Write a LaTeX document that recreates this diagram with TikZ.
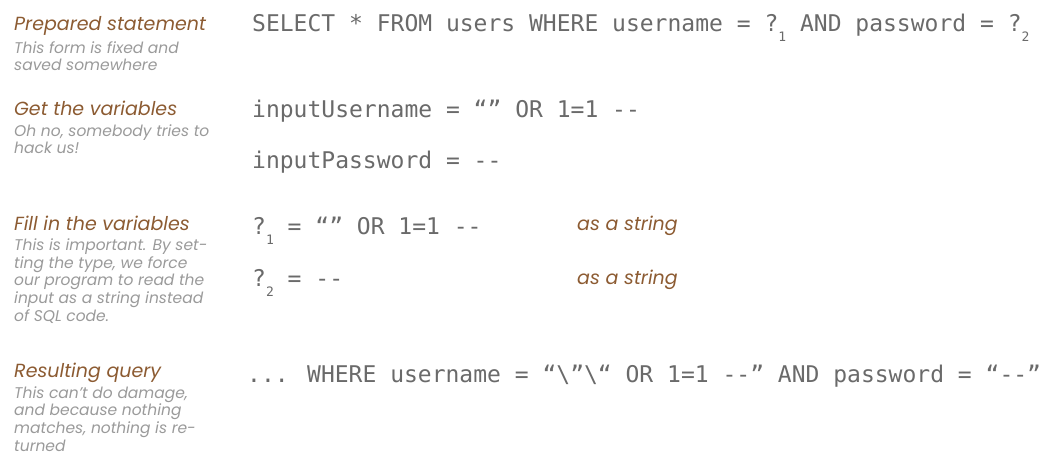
\documentclass[tikz,border=0pt]{standalone}
\usepackage{fontspec}
\newfontfamily\monof{DejaVu Sans Mono}
\newfontfamily\labf{Poppins}
\definecolor{headbrown}{HTML}{8C5B32}
\definecolor{notegray}{HTML}{9A9A9A}
\definecolor{codegray}{HTML}{6A6A6A}
\newcommand\subidx[1]{\raisebox{-10pt}{\fontsize{13}{13}\selectfont #1}}
\newcommand\dd{-\kern0pt-}
\tikzset{
  head/.style={anchor=base west, inner sep=0pt, text=headbrown, font=\labf\itshape\fontsize{19}{19}\selectfont},
  note/.style={anchor=base west, inner sep=0pt, text=notegray, align=left, font=\labf\itshape\fontsize{15.5}{17.6}\selectfont},
  code/.style={anchor=base west, inner sep=0pt, text=codegray, font=\monof\fontsize{23}{23}\selectfont},
}
\begin{document}
\begin{tikzpicture}[x=1pt,y=-1pt]
\useasboundingbox (0,0) rectangle (1055,473);
% left column
\node[head] (h1) at (14,31) {Prepared statement};
\node[note] (n1) at (14,71) {This form is fixed and\\saved somewhere};
\node[head] (h2) at (14,116) {Get the variables};
\node[note] (n2) at (14,154) {Oh no, somebody tries to\\hack us!};
\node[head] (h3) at (14,231) {Fill in the variables};
\node[note] (n3) at (14,321) {This is important. By set-\\ting the type, we force\\our program to read the\\input as a string instead\\of SQL code.};
\node[head] (h4) at (14,377) {Resulting query};
\node[note] (n4) at (14,451) {This can’t do damage,\\and because nothing\\matches, nothing is re-\\turned};
% right column
\node[code] (c1) at (252,32) {SELECT * FROM users WHERE username = ?\subidx{1} AND password = ?\subidx{2}};
\node[code] (c2) at (252,118) {inputUsername = “” OR 1=1 \dd};
\node[code] (c3) at (252,169) {inputPassword = \dd};
\node[code] (c4) at (252,235) {?\subidx{1} = “” OR 1=1 \dd};
\node[code] (c5) at (252,286) {?\subidx{2} = \dd};
\node[head] (s1) at (577,231) {as a string};
\node[head] (s2) at (577,284) {as a string};
\node[code] (c6) at (247,382) {... WHERE username = “\textbackslash ”\textbackslash “ OR 1=1 \dd” AND password = “\dd”};
\end{tikzpicture}
\end{document}
